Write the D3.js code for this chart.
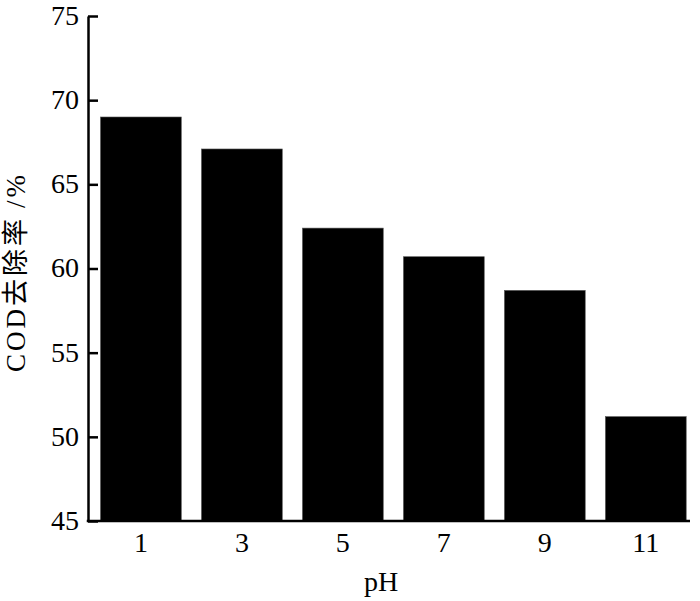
<!DOCTYPE html>
<html>
<head>
<meta charset="utf-8">
<script src="https://cdn.jsdelivr.net/npm/d3@7"></script>
<style>
html,body{margin:0;padding:0;background:#fff;}
svg{display:block;}
svg text{font-family:"Liberation Serif","Noto Sans CJK SC",serif !important;fill:#000;}
</style>
</head>
<body>
<svg id="chart" width="700" height="601"></svg>
<script>
const categories = ["1", "3", "5", "7", "9", "11"];
const values = [69.0, 67.1, 62.4, 60.7, 58.7, 51.2];
const yTicks = [45, 50, 55, 60, 65, 70, 75];
const xTitle = "pH";
const yTitleParts = ["COD", "去除率", "/%"];

const svg = d3.select("#chart");
const axisLeftX = 88, axisRightX = 690, yTop = 16, yBottom = 521;

const x = d3.scaleBand().domain(categories).range([90.4, 696.3]).paddingInner(0.2).paddingOuter(0.1);
const y = d3.scaleLinear().domain([45, 75]).range([yBottom, yTop]);

// bars
svg.append("g").selectAll("rect").data(values).join("rect")
  .attr("x", (d, i) => x(categories[i]))
  .attr("width", x.bandwidth())
  .attr("y", d => y(d))
  .attr("height", d => y(45) - y(d))
  .attr("fill", "#000")
  .attr("stroke", "#555")
  .attr("stroke-width", 0.6);

// y axis
const yAxis = d3.axisRight(y).tickValues(yTicks).tickSize(10).tickSizeOuter(0).tickFormat(d3.format("d"));
const gy = svg.append("g").attr("transform", `translate(${axisLeftX},0)`).call(yAxis)
  .attr("font-family", null).attr("font-size", null);
gy.select(".domain").attr("stroke", "#000").attr("stroke-width", 2.5);
gy.selectAll(".tick line").attr("stroke", "#000").attr("stroke-width", 2.5);
gy.selectAll(".tick text")
  .attr("x", -9).attr("dy", "0.3em")
  .attr("text-anchor", "end")
  .style("font-size", "28px");

// x axis
svg.append("line").attr("x1", axisLeftX - 1.25).attr("x2", axisRightX)
  .attr("y1", yBottom).attr("y2", yBottom)
  .attr("stroke", "#000").attr("stroke-width", 2.5);
const xAxis = d3.axisBottom(x).tickSize(0).tickSizeOuter(0);
const gx = svg.append("g").attr("transform", `translate(0,${yBottom})`).call(xAxis)
  .attr("font-family", null).attr("font-size", null);
gx.select(".domain").remove();
gx.selectAll(".tick text")
  .attr("y", 11).attr("dy", "0.71em")
  .style("font-size", "28px");

// titles
svg.append("text").attr("x", 381).attr("y", 591)
  .attr("text-anchor", "middle").style("font-size", "28px").text(xTitle);

const yt = svg.append("text")
  .attr("transform", "translate(25,272) rotate(-90)")
  .attr("text-anchor", "middle")
  .style("font-size", "27px")
  .style("letter-spacing", "3px");
yt.append("tspan").text(yTitleParts[0]);
yt.append("tspan").text(yTitleParts[1]);
yt.append("tspan").attr("dx", 8).text(yTitleParts[2]);
</script>
</body>
</html>
